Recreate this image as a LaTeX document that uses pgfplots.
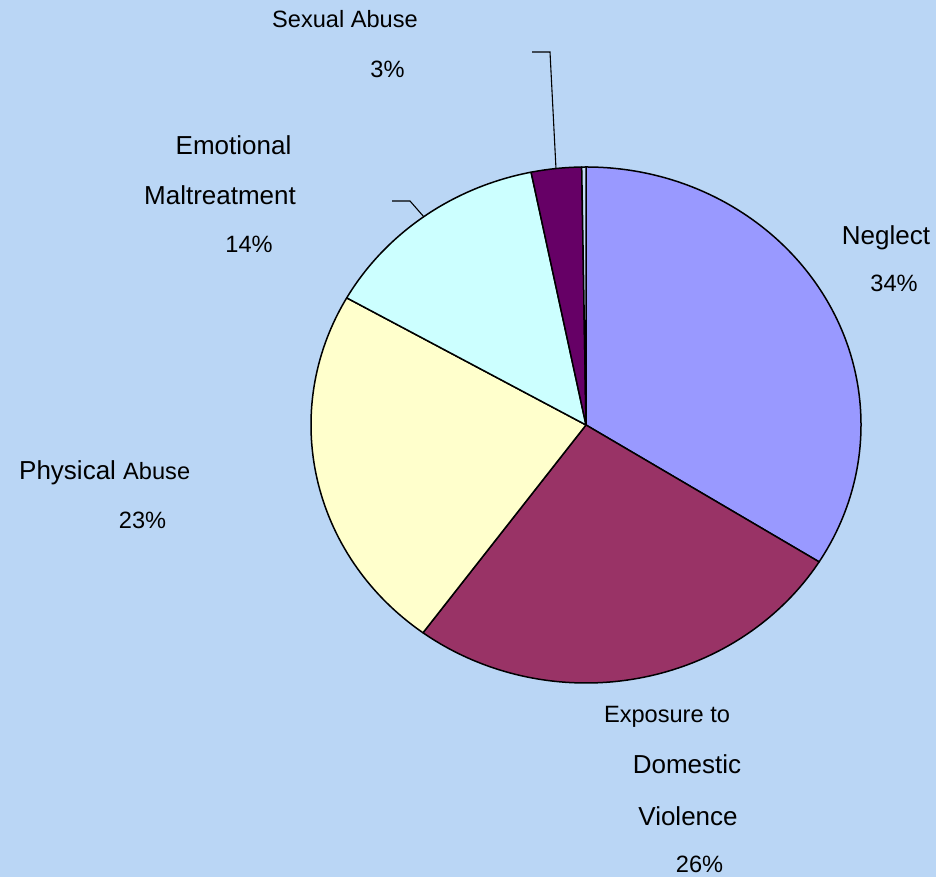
\documentclass[border=0pt]{standalone}
\usepackage{fontspec}
\setmainfont{Liberation Sans}
\usepackage{pgfplots}
\pgfplotsset{compat=1.18}
\definecolor{bg}{HTML}{BAD6F5}
\definecolor{cNeg}{HTML}{9999FF}
\definecolor{cDV}{HTML}{993366}
\definecolor{cPhy}{HTML}{FFFFCC}
\definecolor{cEmo}{HTML}{CCFFFF}
\definecolor{cSex}{HTML}{660066}
\definecolor{cOth}{HTML}{C4DCF6}
\newcommand{\lrg}{\fontsize{26}{30}\selectfont}
\newcommand{\sml}{\fontsize{23.6}{28}\selectfont}
\begin{document}
\begin{tikzpicture}
% slice values (percent), clockwise from 12 o'clock
\pgfmathsetmacro{\vNeg}{33.9}
\pgfmathsetmacro{\vDV}{26.2}
\pgfmathsetmacro{\vPhy}{23.1}
\pgfmathsetmacro{\vEmo}{13.6}
\pgfmathsetmacro{\vSex}{2.95}
\pgfmathsetmacro{\vOth}{0.25}
\pgfmathsetmacro{\aA}{90}
\pgfmathsetmacro{\aB}{\aA-3.6*\vNeg}
\pgfmathsetmacro{\aC}{\aB-3.6*\vDV}
\pgfmathsetmacro{\aD}{\aC-3.6*\vPhy}
\pgfmathsetmacro{\aE}{\aD-3.6*\vEmo}
\pgfmathsetmacro{\aF}{\aE-3.6*\vSex}
\pgfmathsetmacro{\aG}{\aF-3.6*\vOth}
\begin{axis}[width=936pt,height=877pt,scale only axis,
  xmin=0,xmax=936,ymin=0,ymax=877,hide axis,clip=false]
\fill[bg] (axis cs:0,0) rectangle (axis cs:936,877);
\foreach \s/\e/\c in {\aA/\aB/cNeg,\aB/\aC/cDV,\aC/\aD/cPhy,\aD/\aE/cEmo,\aE/\aF/cSex,\aF/\aG/cOth}{
  \edef\tmp{\noexpand\filldraw[fill=\c,draw=black,line width=1.5pt,line join=round]
    (axis cs:586,452) -- ([shift={(\s:275pt and 258pt)}]axis cs:586,452)
    arc[start angle=\s,end angle=\e,x radius=275pt,y radius=258pt] -- cycle;}
  \tmp
}
% leader lines
\draw[black,line width=1.1pt] (axis cs:532,825) -- (axis cs:550,825) -- (axis cs:556,708);
\draw[black,line width=1.1pt] (axis cs:392,676) -- (axis cs:410,676) -- (axis cs:424,660);
% labels
\node[anchor=base,inner sep=0] at (axis cs:345,849) {\sml Sexual Abuse};
\node[anchor=base,inner sep=0] at (axis cs:387.5,799) {\sml 3\%};
\node[anchor=base,inner sep=0] at (axis cs:233.5,722) {\lrg Emotional};
\node[anchor=base,inner sep=0] at (axis cs:220,672) {\lrg Maltreatment};
\node[anchor=base,inner sep=0] at (axis cs:249,624) {\sml 14\%};
\node[anchor=base west,inner sep=0] at (axis cs:19,397) {\lrg Physical \sml Abuse};
\node[anchor=base,inner sep=0] at (axis cs:142.5,348) {\sml 23\%};
\node[anchor=base,inner sep=0] at (axis cs:886,632) {\lrg Neglect};
\node[anchor=base,inner sep=0] at (axis cs:894,585) {\sml 34\%};
\node[anchor=base,inner sep=0] at (axis cs:667,154) {\sml Exposure to};
\node[anchor=base,inner sep=0] at (axis cs:687,103) {\lrg Domestic};
\node[anchor=base,inner sep=0] at (axis cs:688,51) {\lrg Violence};
\node[anchor=base,inner sep=0] at (axis cs:699.5,4) {\sml 26\%};
\end{axis}
\end{tikzpicture}
\end{document}
